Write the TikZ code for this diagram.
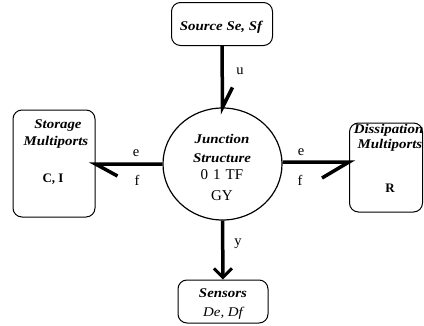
\documentclass[tikz,border=0pt]{standalone}
\usepackage{fontspec}
\setmainfont{Liberation Serif}
\newfontfamily\bifont[FakeStretch=1.12]{Liberation Serif}
\usetikzlibrary{arrows.meta,shapes.geometric}
\begin{document}
\begin{tikzpicture}[x=1pt,y=-1pt,
  box/.style={draw,line width=1pt,rounded corners=9pt,inner sep=0pt},
  lbl/.style={font=\bifont\fontsize{13.3}{15}\selectfont\bfseries\itshape,inner sep=0pt,anchor=base},
  itl/.style={font=\bifont\fontsize{13.3}{15}\selectfont\itshape,inner sep=0pt,anchor=base},
  reg/.style={font=\fontsize{15}{17}\selectfont,inner sep=0pt,anchor=base},
  sym/.style={font=\fontsize{13}{15}\selectfont\bfseries,inner sep=0pt,anchor=base},
  small/.style={font=\fontsize{14.5}{16}\selectfont,inner sep=0pt,anchor=base},
  bond/.style={line width=3.5pt}]
\useasboundingbox (0,0) rectangle (424,325);
% boxes
\node[box,minimum width=101pt,minimum height=43pt] (src) at (222,24) {};
\node[box,minimum width=82pt,minimum height=107pt] (store) at (54,163.5) {};
\node[box,minimum width=73pt,minimum height=89pt] (diss) at (386,167.5) {};
\node[box,minimum width=90pt,minimum height=43pt] (sens) at (223,301.5) {};
\node[draw,ellipse,line width=1.2pt,minimum width=119pt,minimum height=112pt,inner sep=0pt] (js) at (222.5,164) {};
% texts
\node[lbl] (t1) at (221,30) {Source Se, Sf};
\node[lbl] (t2) at (58,128) {Storage};
\node[lbl] (t3) at (56,145) {Multiports};
\node[sym] (t4) at (53,182) {C, I};
\node[lbl,anchor=base east] (t5) at (423.5,133) {Dissipation};
\node[lbl] (t6) at (390,148) {Multiports};
\node[sym] (t7) at (390,192) {R};
\node[lbl] (t8) at (223,297) {Sensors};
\node[itl] (t9) at (223,316) {De, Df};
\node[lbl] (t10) at (222,143) {Junction};
\node[lbl] (t11) at (222,162) {Structure};
\node[reg] (t12) at (222,179) {0\,\,1\,\,TF};
\node[reg] (t13) at (222,200) {GY};
% bond labels
\node[small] (lu) at (240,74) {u};
\node[small] (ly) at (238,245) {y};
\node[small] (le1) at (136,156) {e};
\node[small] (lf1) at (137,185) {f};
\node[small] (le2) at (301,155) {e};
\node[small] (lf2) at (300,185) {f};
% bonds
\draw[bond] (src.south) -- (js.north) -- ++(10,-20);
\draw[bond] (js.west) -- (store.east |- js.west) -- ++(22,12);
\draw[bond] (js.east |- 0,162) -- (diss.west |- 0,162) -- ++(-27,16);
\draw[bond,-{Straight Barb[length=9pt,width=18pt,line width=3pt]}] (js.south) -- (sens.north);
\end{tikzpicture}
\end{document}
